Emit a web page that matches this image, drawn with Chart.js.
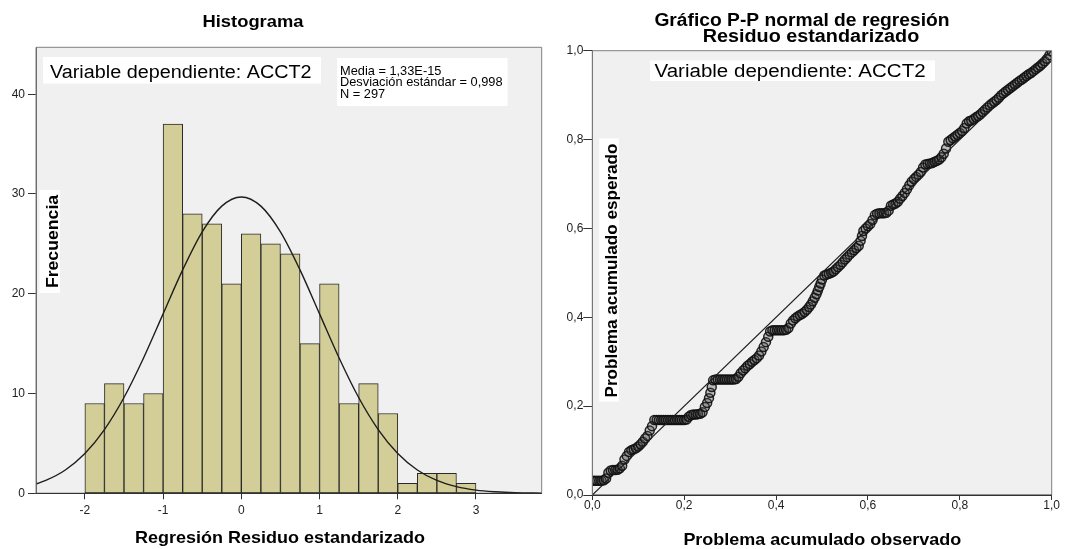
<!DOCTYPE html>
<html>
<head>
<meta charset="utf-8">
<script src="https://cdn.jsdelivr.net/npm/chart.js@4/dist/chart.umd.min.js"></script>
<style>
  html, body { margin: 0; padding: 0; background: #fff; }
  #wrap { position: relative; width: 1067px; height: 549px; overflow: hidden; }
  canvas { position: absolute; top: 0; }
  #hist { left: 0; }
  #pp { left: 548px; }
</style>
</head>
<body>
<div id="wrap">
  <canvas id="hist" width="548" height="549"></canvas>
  <canvas id="pp" width="519" height="549"></canvas>
</div>
<script>
// ---- Histogram of standardized residuals ----
const binLower = [-2, -1.75, -1.5, -1.25, -1, -0.75, -0.5, -0.25, 0, 0.25,
                  0.5, 0.75, 1, 1.25, 1.5, 1.75, 2, 2.25, 2.5, 2.75];
const binCounts = [9, 11, 9, 10, 37, 28, 27, 21, 26, 25,
                   24, 15, 21, 9, 11, 8, 1, 2, 2, 1];
const binWidth = 0.25;

// normal curve heights (frequency scale)
const normalX = [-2.625, -2.5, -2.25, -2, -1.75, -1.5, -1.25, -1, -0.75, -0.5, -0.25, 0,
                 0.25, 0.5, 0.75, 1, 1.25, 1.5, 1.75, 2, 2.25, 2.5, 2.75, 3, 3.25, 3.5, 3.84];
const normalY = [0.94, 1.29, 2.34, 3.99, 6.39, 9.60, 13.56, 17.98, 22.39, 26.20, 28.78, 29.70,
                 28.78, 26.20, 22.39, 17.98, 13.56, 9.60, 6.39, 3.99, 2.34, 1.29, 0.67, 0.32, 0.15, 0.06, 0.02];

const histXTicks = [-2, -1, 0, 1, 2, 3];
const histYTicks = [0, 10, 20, 30, 40];

const statsLines = ['Media = 1,33E-15', 'Desviación estándar = 0,998', 'N = 297'];

// ---- Normal P-P plot ----
const ppObserved = [
  0.000, 0.005, 0.010, 0.015, 0.020, 0.025, 0.030, 0.035, 0.040, 0.045,
  0.050, 0.055, 0.060, 0.065, 0.070, 0.075, 0.080, 0.085, 0.090, 0.095,
  0.100, 0.105, 0.110, 0.115, 0.120, 0.125, 0.130, 0.135, 0.140, 0.145,
  0.150, 0.155, 0.160, 0.165, 0.170, 0.175, 0.180, 0.185, 0.190, 0.195,
  0.200, 0.205, 0.210, 0.215, 0.220, 0.225, 0.230, 0.235, 0.240, 0.245,
  0.250, 0.254, 0.257, 0.260, 0.263, 0.268, 0.273, 0.278, 0.283, 0.288,
  0.293, 0.298, 0.303, 0.308, 0.313, 0.318, 0.323, 0.328, 0.333, 0.338,
  0.343, 0.348, 0.353, 0.358, 0.363, 0.368, 0.373, 0.378, 0.383, 0.387,
  0.392, 0.397, 0.402, 0.407, 0.412, 0.417, 0.422, 0.427, 0.432, 0.437,
  0.442, 0.447, 0.452, 0.457, 0.462, 0.467, 0.472, 0.476, 0.480, 0.484,
  0.488, 0.491, 0.494, 0.497, 0.500, 0.505, 0.510, 0.515, 0.520, 0.525,
  0.530, 0.535, 0.540, 0.545, 0.550, 0.555, 0.560, 0.565, 0.570, 0.575,
  0.580, 0.584, 0.587, 0.590, 0.595, 0.600, 0.605, 0.610, 0.615, 0.620,
  0.625, 0.630, 0.635, 0.640, 0.645, 0.650, 0.655, 0.660, 0.665, 0.670,
  0.675, 0.680, 0.685, 0.690, 0.695, 0.700, 0.705, 0.710, 0.715, 0.720,
  0.725, 0.730, 0.735, 0.740, 0.745, 0.750, 0.755, 0.760, 0.765, 0.770,
  0.775, 0.780, 0.785, 0.790, 0.795, 0.800, 0.805, 0.810, 0.815, 0.820,
  0.825, 0.830, 0.835, 0.840, 0.845, 0.850, 0.855, 0.860, 0.865, 0.870,
  0.875, 0.880, 0.885, 0.890, 0.895, 0.900, 0.905, 0.910, 0.915, 0.920,
  0.925, 0.930, 0.935, 0.940, 0.945, 0.950, 0.955, 0.960, 0.965, 0.970,
  0.975, 0.980, 0.985, 0.990, 0.995, 1.000
];
const ppExpected = [
  0.032, 0.032, 0.032, 0.032, 0.032, 0.033, 0.037, 0.050, 0.055, 0.056,
  0.056, 0.057, 0.060, 0.066, 0.080, 0.088, 0.097, 0.101, 0.103, 0.105,
  0.109, 0.114, 0.120, 0.127, 0.133, 0.145, 0.155, 0.169, 0.169, 0.169,
  0.169, 0.169, 0.169, 0.169, 0.169, 0.169, 0.169, 0.169, 0.169, 0.169,
  0.169, 0.170, 0.176, 0.180, 0.181, 0.181, 0.182, 0.183, 0.186, 0.198,
  0.207, 0.218, 0.230, 0.243, 0.258, 0.260, 0.260, 0.260, 0.260, 0.260,
  0.260, 0.260, 0.260, 0.260, 0.261, 0.266, 0.274, 0.280, 0.285, 0.291,
  0.295, 0.300, 0.304, 0.308, 0.314, 0.323, 0.333, 0.344, 0.356, 0.368,
  0.371, 0.371, 0.371, 0.371, 0.371, 0.371, 0.372, 0.376, 0.386, 0.393,
  0.398, 0.402, 0.405, 0.408, 0.412, 0.417, 0.423, 0.429, 0.436, 0.444,
  0.452, 0.460, 0.468, 0.476, 0.485, 0.494, 0.496, 0.498, 0.500, 0.503,
  0.508, 0.513, 0.518, 0.524, 0.530, 0.535, 0.541, 0.546, 0.551, 0.556,
  0.561, 0.572, 0.583, 0.594, 0.600, 0.605, 0.610, 0.619, 0.630, 0.633,
  0.634, 0.634, 0.634, 0.635, 0.640, 0.651, 0.654, 0.656, 0.660, 0.667,
  0.673, 0.680, 0.688, 0.697, 0.705, 0.711, 0.716, 0.721, 0.727, 0.737,
  0.744, 0.745, 0.746, 0.747, 0.750, 0.752, 0.755, 0.760, 0.768, 0.780,
  0.795, 0.799, 0.803, 0.807, 0.811, 0.815, 0.819, 0.826, 0.836, 0.841,
  0.843, 0.846, 0.850, 0.853, 0.857, 0.862, 0.867, 0.872, 0.877, 0.881,
  0.885, 0.889, 0.894, 0.900, 0.904, 0.908, 0.912, 0.916, 0.920, 0.924,
  0.928, 0.932, 0.935, 0.939, 0.943, 0.947, 0.950, 0.954, 0.958, 0.962,
  0.966, 0.971, 0.976, 0.982, 0.990, 0.998
];
const diagonal = [0, 1];
const ppTickStep = 0.2;

// ---- shared styling ----
const FONT = '"Liberation Sans", Arial, Helvetica, sans-serif';
const PLOT_BG = '#f0f0f0';
const FRAME = '#808080';
const AXIS = '#333333';
const TICK_TEXT = '#222222';

function drawText(ctx, txt, x, y, o) {
  ctx.save();
  ctx.font = o.font;
  ctx.fillStyle = o.color || '#000';
  ctx.textAlign = o.align || 'left';
  ctx.textBaseline = 'alphabetic';
  ctx.translate(x, y);
  if (o.rotate) ctx.rotate(o.rotate);
  ctx.scale(o.sx || 1, 1);
  ctx.fillText(txt, 0, 0);
  ctx.restore();
}
function whiteBox(ctx, x0, y0, x1, y1) {
  ctx.save();
  ctx.fillStyle = '#ffffff';
  ctx.fillRect(x0, y0, x1 - x0, y1 - y0);
  ctx.restore();
}

const plotBackground = {
  id: 'plotBackground',
  beforeDraw(chart) {
    const a = chart.chartArea, ctx = chart.ctx;
    ctx.save();
    ctx.fillStyle = PLOT_BG;
    ctx.fillRect(a.left, a.top, a.right - a.left, a.bottom - a.top);
    ctx.restore();
  },
  afterDatasetsDraw(chart) {
    const a = chart.chartArea, ctx = chart.ctx;
    ctx.save();
    ctx.strokeStyle = FRAME;
    ctx.lineWidth = 1;
    ctx.beginPath();
    ctx.moveTo(a.left, a.bottom);
    ctx.lineTo(a.left, a.top);
    ctx.lineTo(a.right, a.top);
    ctx.lineTo(a.right, a.bottom);
    ctx.stroke();
    ctx.strokeStyle = AXIS;
    ctx.beginPath();
    ctx.moveTo(a.left, a.bottom);
    ctx.lineTo(a.right, a.bottom);
    ctx.stroke();
    ctx.restore();
  }
};

function tickFont() { return { family: FONT, size: 12 }; }

// ---------------- Histogram ----------------
const histLabels = {
  id: 'histLabels',
  afterDraw(chart) {
    const ctx = chart.ctx;
    drawText(ctx, 'Histograma', 253, 27, { font: 'bold 17px ' + FONT, align: 'center', sx: 1.08 });
    whiteBox(ctx, 43, 57, 321, 83.5);
    drawText(ctx, 'Variable dependiente: ACCT2', 50, 78, { font: '18px ' + FONT, sx: 1.1 });
    whiteBox(ctx, 337, 58, 507.5, 106);
    const base = [74.5, 86, 97.5];
    statsLines.forEach((t, i) => drawText(ctx, t, 340, base[i], { font: '12.8px ' + FONT }));
    whiteBox(ctx, 39.5, 190, 60, 293);
    drawText(ctx, 'Frecuencia', 58, 241.5, { font: 'bold 16.5px ' + FONT, align: 'center', rotate: -Math.PI / 2, sx: 1.07 });
    drawText(ctx, 'Regresión Residuo estandarizado', 280, 543, { font: 'bold 16.5px ' + FONT, align: 'center', sx: 1.09 });
  }
};

new Chart(document.getElementById('hist'), {
  type: 'bar',
  data: {
    datasets: [
      {
        type: 'line',
        data: normalX.map((x, i) => ({ x, y: normalY[i] })),
        borderColor: '#1e1e1e',
        borderWidth: 1.4,
        pointRadius: 0,
        cubicInterpolationMode: 'monotone',
        fill: false,
        order: 0
      },
      {
        type: 'bar',
        data: binLower.map((lo, i) => ({ x: lo + binWidth / 2, y: binCounts[i] })),
        backgroundColor: '#d3ce97',
        borderColor: '#2a2a2a',
        borderWidth: 1,
        borderSkipped: false,
        barPercentage: 1,
        categoryPercentage: 1,
        grouped: false,
        order: 1
      }
    ]
  },
  options: {
    responsive: false,
    animation: false,
    events: [],
    layout: { padding: { top: 47.3, right: 6.3, left: 0, bottom: 0 } },
    plugins: { legend: { display: false }, tooltip: { enabled: false }, title: { display: false } },
    scales: {
      x: {
        type: 'linear',
        offset: false,
        min: -2.625,
        max: 3.84,
        afterBuildTicks: s => { s.ticks = histXTicks.map(v => ({ value: v })); },
        afterFit: s => { s.height = 549 - 493.3; },
        grid: { offset: false, drawOnChartArea: false, drawTicks: true, tickLength: 6, color: AXIS },
        border: { display: true, color: AXIS },
        ticks: { font: tickFont(), color: TICK_TEXT, padding: 4, maxRotation: 0, callback: v => String(v) }
      },
      y: {
        type: 'linear',
        min: 0,
        max: 44.7,
        afterBuildTicks: s => { s.ticks = histYTicks.map(v => ({ value: v })); },
        afterFit: s => { s.width = 36; },
        grid: { drawOnChartArea: false, drawTicks: true, tickLength: 8, color: AXIS },
        border: { display: true, color: '#555555' },
        ticks: { font: tickFont(), color: TICK_TEXT, padding: 3, callback: v => String(v) }
      }
    }
  },
  plugins: [plotBackground, histLabels]
});

// ---------------- P-P plot ----------------
const OFF = 548;
const ppLabels = {
  id: 'ppLabels',
  afterDraw(chart) {
    const ctx = chart.ctx;
    drawText(ctx, 'Gráfico P-P normal de regresión', 802 - OFF, 26, { font: 'bold 17.5px ' + FONT, align: 'center', sx: 1.1 });
    drawText(ctx, 'Residuo estandarizado', 811 - OFF, 41.7, { font: 'bold 17.5px ' + FONT, align: 'center', sx: 1.13 });
    whiteBox(ctx, 650 - OFF, 60.5, 935 - OFF, 81);
    drawText(ctx, 'Variable dependiente: ACCT2', 654.5 - OFF, 77.3, { font: '18px ' + FONT, sx: 1.14 });
    whiteBox(ctx, 599.3 - OFF, 138.5, 619 - OFF, 401.5);
    drawText(ctx, 'Problema acumulado esperado', 616.5 - OFF, 270.5, { font: 'bold 16px ' + FONT, align: 'center', rotate: -Math.PI / 2, sx: 1.07 });
    drawText(ctx, 'Problema acumulado observado', 822.3 - OFF, 545, { font: 'bold 16.5px ' + FONT, align: 'center', sx: 1.09 });
  }
};

const commaFmt = v => Number(v).toFixed(1).replace('.', ',');

new Chart(document.getElementById('pp'), {
  type: 'scatter',
  data: {
    datasets: [
      {
        type: 'line',
        data: diagonal.map(v => ({ x: v, y: v })),
        borderColor: '#1e1e1e',
        borderWidth: 1.2,
        pointRadius: 0,
        fill: false,
        order: 0
      },
      {
        type: 'scatter',
        data: ppObserved.map((x, i) => ({ x, y: ppExpected[i] })),
        pointStyle: 'circle',
        pointRadius: 4.5,
        pointBorderWidth: 1.5,
        pointBorderColor: 'rgba(15,15,15,0.9)',
        pointBackgroundColor: 'rgba(70,70,70,0.3)',
        order: 1
      }
    ]
  },
  options: {
    responsive: false,
    animation: false,
    events: [],
    layout: { padding: { top: 50.7, right: 15.3, left: 0, bottom: 0 } },
    plugins: { legend: { display: false }, tooltip: { enabled: false }, title: { display: false } },
    scales: {
      x: {
        type: 'linear',
        min: 0,
        max: 1,
        afterFit: s => { s.height = 549 - 495; },
        grid: { drawOnChartArea: false, drawTicks: true, tickLength: 5, color: AXIS },
        border: { display: true, color: AXIS },
        ticks: { stepSize: ppTickStep, font: tickFont(), color: TICK_TEXT, padding: -2, maxRotation: 0, callback: commaFmt }
      },
      y: {
        type: 'linear',
        min: 0,
        max: 1,
        afterFit: s => { s.width = 592.3 - OFF; },
        grid: { drawOnChartArea: false, drawTicks: true, tickLength: 9, color: AXIS },
        border: { display: true, color: '#555555' },
        ticks: { stepSize: ppTickStep, font: tickFont(), color: TICK_TEXT, padding: 0, callback: commaFmt }
      }
    }
  },
  plugins: [plotBackground, ppLabels]
});
</script>
</body>
</html>
